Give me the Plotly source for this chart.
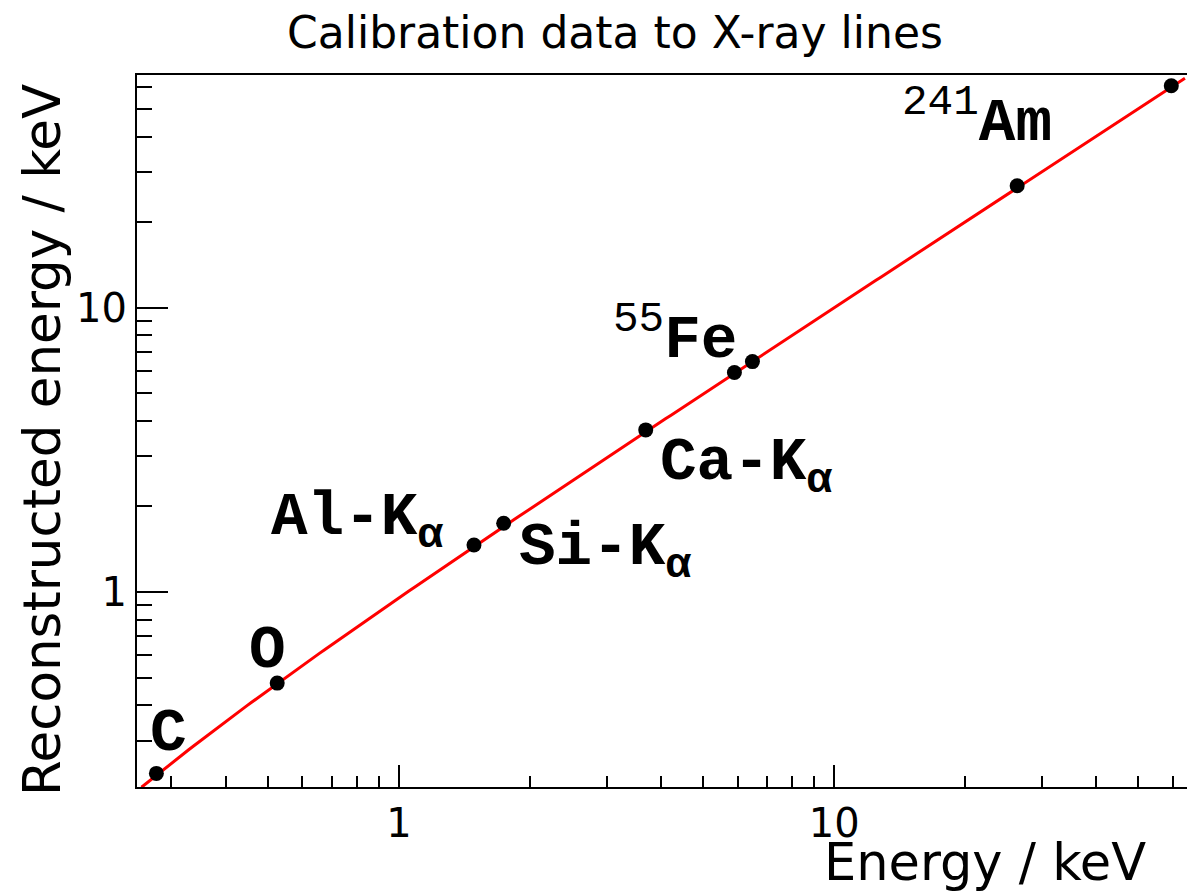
import numpy as np
import plotly.graph_objects as go

# ---- data ----
line_names = ["C", "O", "Al-Kα", "Si-Kα", "Ca-Kα", "55Fe a", "55Fe b", "241Am a", "241Am b"]
energy = [0.277, 0.525, 1.487, 1.740, 3.69, 5.90, 6.49, 26.34, 59.54]
reconstructed = [0.230, 0.478, 1.464, 1.746, 3.72, 5.92, 6.47, 26.9, 60.5]

# linear calibration fit  E_rec = slope * E + offset
fit_slope = 1.006
fit_offset = -0.052
fit_xmin, fit_xmax = 0.256, 64.0

x_major = [1, 10]
y_major = [1, 10]
x_minor = [0.3, 0.4, 0.5, 0.6, 0.7, 0.8, 0.9, 2, 3, 4, 5, 6, 7, 8, 9, 20, 30, 40, 50, 60]
y_minor = [0.3, 0.4, 0.5, 0.6, 0.7, 0.8, 0.9, 2, 3, 4, 5, 6, 7, 8, 9, 20, 30, 40, 50, 60]

x_range = [0.25, 64.7]
y_range = [0.206, 66.0]

# label texts and positions (pixel centres in the picture)
labels = ["C", "O", "Al-K<sub>α</sub>", "Si-K<sub>α</sub>", "Ca-K<sub>α</sub>",
          "<sup><span style='font-weight:normal'>55</span></sup>Fe",
          "<sup><span style='font-weight:normal'>241</span></sup>Am"]
label_px = [(168, 733), (267, 650), (357, 521), (605, 551), (746, 466), (675, 335), (977, 118)]

W, H = 1187, 892
L, R, T, B = 137, 1187, 75, 787

fit_x = np.geomspace(fit_xmin, fit_xmax, 200)
fit_y = fit_slope * fit_x + fit_offset

fig = go.Figure()
fig.add_trace(go.Scatter(x=fit_x, y=fit_y, mode="lines",
                         line=dict(color="#ff0000", width=3), hoverinfo="skip"))
fig.add_trace(go.Scatter(x=energy, y=reconstructed, mode="markers", text=line_names,
                         marker=dict(color="black", size=15)))

def px2paper(px, py):
    return (px - L) / (R - L), (B - py) / (B - T)

annotations = []
for t, (px, py) in zip(labels, label_px):
    xp, yp = px2paper(px, py)
    annotations.append(dict(text=t, x=xp, y=yp, xref="paper", yref="paper",
                            xanchor="center", yanchor="middle", showarrow=False,
                            font=dict(family="Liberation Mono", size=61, color="black", weight="bold")))

# title and axis titles
annotations.append(dict(text="Calibration data to X-ray lines", x=(615 - L) / (R - L), y=(B - 32) / (B - T),
                        xref="paper", yref="paper", xanchor="center", yanchor="middle", showarrow=False,
                        font=dict(family="DejaVu Sans", size=44, color="black")))
annotations.append(dict(text="Energy / keV", x=(1148 - L) / (R - L), y=(B - 862) / (B - T),
                        xref="paper", yref="paper", xanchor="right", yanchor="middle", showarrow=False,
                        font=dict(family="DejaVu Sans", size=51, color="black")))
annotations.append(dict(text="Reconstructed energy / keV", x=(42 - L) / (R - L), y=(B - 82) / (B - T),
                        xref="paper", yref="paper", xanchor="center", yanchor="top", textangle=-90,
                        showarrow=False,
                        font=dict(family="DejaVu Sans", size=51.5, color="black")))

axis_common = dict(type="log", showgrid=False, zeroline=False, showline=True, linecolor="black",
                   linewidth=2, ticks="inside", tickcolor="black", tickwidth=2,
                   tickfont=dict(family="DejaVu Sans", size=40, color="black"))

fig.update_layout(
    width=W, height=H, margin=dict(l=L, r=W - R, t=T, b=H - B),
    paper_bgcolor="white", plot_bgcolor="white", showlegend=False,
    xaxis=dict(**axis_common, range=[np.log10(x_range[0]), np.log10(x_range[1])],
               tickmode="array", tickvals=x_major, ticktext=[str(v) for v in x_major],
               ticklen=22, mirror=True,
               minor=dict(tickmode="array", tickvals=x_minor, ticks="inside", ticklen=11,
                          tickcolor="black", tickwidth=2, showgrid=False)),
    yaxis=dict(**axis_common, range=[np.log10(y_range[0]), np.log10(y_range[1])],
               tickmode="array", tickvals=y_major, ticktext=[str(v) for v in y_major],
               ticklen=31,
               minor=dict(tickmode="array", tickvals=y_minor, ticks="inside", ticklen=15,
                          tickcolor="black", tickwidth=2, showgrid=False)),
    annotations=annotations,
)

fig.write_html("out.html")
